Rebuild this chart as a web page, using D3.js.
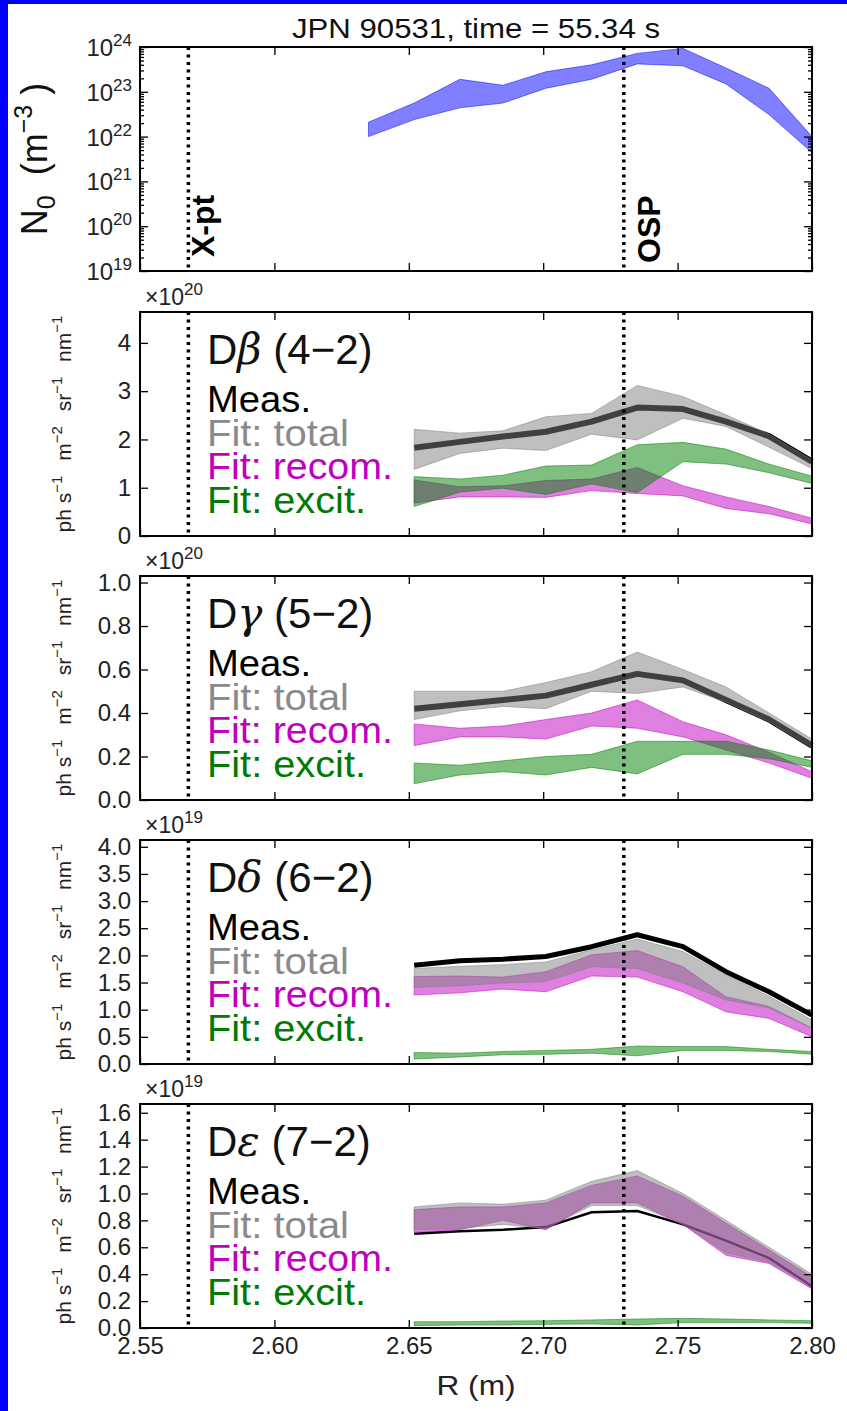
<!DOCTYPE html>
<html>
<head>
<meta charset="utf-8">
<script src="https://cdn.jsdelivr.net/npm/d3@7"></script>
<style>
body { margin: 0; background: #fff; }
svg { display: block; }
text { font-family: "Liberation Sans", Arial, sans-serif; }
</style>
</head>
<body>
<script>
// radial positions (m)
var R0 = [2.635, 2.652, 2.669, 2.685, 2.701, 2.718, 2.735, 2.752, 2.768, 2.784, 2.800];
var R = [2.652, 2.669, 2.685, 2.701, 2.718, 2.735, 2.752, 2.768, 2.784, 2.800];

// neutral density N0 (m^-3)
var n0Hi = [2.1e22, 5.6e22, 1.9e23, 1.4e23, 2.8e23, 4.0e23, 7.2e23, 9.3e23, 3.4e23, 1.2e23, 1.0e22];
var n0Lo = [1.0e22, 2.4e22, 4.4e22, 5.6e22, 1.2e23, 1.9e23, 4.2e23, 3.8e23, 1.5e23, 3.1e22, 4.4e21];

// D-beta (x1e20)
var betaMeas  = [1.83, 1.95, 2.06, 2.16, 2.37, 2.66, 2.63, 2.37, 2.07, 1.54];
var betaTotHi = [2.21, 2.13, 2.18, 2.47, 2.54, 3.12, 2.89, 2.51, 2.11, 1.58];
var betaTotLo = [1.38, 1.71, 1.82, 1.77, 2.11, 1.99, 2.44, 2.27, 1.84, 1.40];
var betaRecHi = [1.16, 1.02, 1.04, 1.15, 1.18, 1.42, 1.04, 0.81, 0.61, 0.37];
var betaRecLo = [0.68, 0.81, 0.81, 0.80, 0.94, 0.88, 0.83, 0.57, 0.46, 0.25];
var betaExcHi = [1.23, 1.18, 1.26, 1.45, 1.47, 1.89, 1.94, 1.80, 1.49, 1.24];
var betaExcLo = [0.61, 0.91, 0.99, 0.86, 1.08, 0.90, 1.54, 1.49, 1.31, 1.09];

// D-gamma (x1e20)
var gammaMeas  = [0.42, 0.44, 0.46, 0.48, 0.53, 0.58, 0.55, 0.46, 0.37, 0.25];
var gammaTotHi = [0.50, 0.50, 0.50, 0.54, 0.59, 0.68, 0.60, 0.52, 0.40, 0.28];
var gammaTotLo = [0.37, 0.41, 0.43, 0.42, 0.50, 0.49, 0.52, 0.45, 0.36, 0.24];
var gammaRecHi = [0.35, 0.33, 0.34, 0.37, 0.40, 0.46, 0.36, 0.30, 0.22, 0.13];
var gammaRecLo = [0.25, 0.29, 0.29, 0.28, 0.34, 0.33, 0.29, 0.23, 0.17, 0.10];
var gammaExcHi = [0.17, 0.16, 0.18, 0.20, 0.21, 0.27, 0.27, 0.27, 0.23, 0.18];
var gammaExcLo = [0.075, 0.115, 0.13, 0.115, 0.15, 0.12, 0.21, 0.21, 0.19, 0.15];

// D-delta (x1e19)
var deltaMeas  = [1.82, 1.90, 1.93, 1.98, 2.16, 2.38, 2.16, 1.70, 1.33, 0.90];
var deltaTotHi = [1.76, 1.80, 1.83, 1.88, 2.10, 2.30, 2.07, 1.64, 1.25, 0.81];
var deltaTotLo = [1.41, 1.44, 1.49, 1.52, 1.79, 1.76, 1.49, 1.18, 1.03, 0.66];
var deltaRecHi = [1.61, 1.62, 1.60, 1.70, 2.01, 2.09, 1.79, 1.24, 1.06, 0.66];
var deltaRecLo = [1.27, 1.31, 1.38, 1.33, 1.62, 1.60, 1.33, 0.96, 0.84, 0.50];
var deltaExcHi = [0.21, 0.20, 0.23, 0.25, 0.27, 0.33, 0.32, 0.32, 0.27, 0.23];
var deltaExcLo = [0.09, 0.13, 0.17, 0.18, 0.20, 0.15, 0.25, 0.25, 0.23, 0.18];

// D-epsilon (x1e19)
var epsMeas  = [0.70, 0.72, 0.73, 0.75, 0.86, 0.87, 0.77, 0.65, 0.52, 0.31];
var epsTotHi = [0.90, 0.93, 0.92, 0.95, 1.09, 1.17, 1.00, 0.80, 0.60, 0.40];
var epsTotLo = [0.73, 0.74, 0.77, 0.74, 0.91, 0.91, 0.77, 0.56, 0.49, 0.31];
var epsRecHi = [0.88, 0.90, 0.90, 0.93, 1.06, 1.13, 0.98, 0.78, 0.58, 0.38];
var epsRecLo = [0.71, 0.73, 0.80, 0.73, 0.93, 0.93, 0.77, 0.54, 0.48, 0.29];
var epsExcHi = [0.047, 0.047, 0.052, 0.054, 0.060, 0.067, 0.072, 0.067, 0.060, 0.054];
var epsExcLo = [0.017, 0.022, 0.022, 0.027, 0.030, 0.022, 0.040, 0.040, 0.040, 0.035];

// ticks
var xTicks = [2.55, 2.60, 2.65, 2.70, 2.75, 2.80];
var logTicks = [1e19, 1e20, 1e21, 1e22, 1e23, 1e24];
var betaTicks = [0, 1, 2, 3, 4];
var gammaTicks = [0, 0.2, 0.4, 0.6, 0.8, 1.0];
var deltaTicks = [0, 0.5, 1.0, 1.5, 2.0, 2.5, 3.0, 3.5, 4.0];
var epsTicks = [0, 0.2, 0.4, 0.6, 0.8, 1.0, 1.2, 1.4, 1.6];

var xptR = 2.568, ospR = 2.730;
var legendLabels = ["Meas.", "Fit: total", "Fit: recom.", "Fit: excit."];
var legendColors = ["#000", "#8a8a8a", "#bf00bf", "#007a00"];
var legendWidths = [104, 142, 186, 159];

var width = 847, height = 1411;
var left = 140, right = 812, ph = 224;
var tops = [47, 312, 576, 840, 1104];

var svg = d3.select("body").append("svg")
    .attr("width", width)
    .attr("height", height);

svg.append("rect").attr("x", 0).attr("y", 0).attr("width", width).attr("height", 4).attr("fill", "#0000ff");
svg.append("rect").attr("x", 0).attr("y", 0).attr("width", 8).attr("height", height).attr("fill", "#0000ff");

var x = d3.scaleLinear().domain([2.55, 2.80]).range([left, right]);

// writes text pieces with sup / sub offsets; p = [text, kind, italic, dx]
function rich(t, parts, size, smallRatio) {
  var small = Math.round(size * (smallRatio || 0.7)), shift = 0;
  parts.forEach(function(p) {
    var target = p[1] === "sup" ? -0.42 * size : p[1] === "sub" ? 0.22 * size : 0;
    var ts = t.append("tspan").attr("dy", target - shift).text(p[0]);
    if (p[1] === "sup" || p[1] === "sub") ts.attr("font-size", small);
    if (p[2]) ts.attr("font-style", "italic").attr("font-family", "DejaVu Serif");
    if (p[3]) ts.attr("dx", p[3]);
    shift = target;
  });
}

function frame(g, y, yTicks, fmt, showX) {
  g.append("g").attr("transform", "translate(0," + y.range()[0] + ")")
    .call(d3.axisBottom(x).tickValues(xTicks).tickSize(-8).tickPadding(9)
      .tickFormat(showX ? d3.format(".2f") : ""));
  g.append("g").attr("transform", "translate(0," + y.range()[1] + ")")
    .call(d3.axisTop(x).tickValues(xTicks).tickSize(-8).tickFormat(""));
  g.append("g").attr("transform", "translate(" + left + ",0)")
    .call(d3.axisLeft(y).tickValues(yTicks).tickSize(-8).tickPadding(9).tickFormat(fmt));
  g.append("g").attr("transform", "translate(" + right + ",0)")
    .call(d3.axisRight(y).tickValues(yTicks).tickSize(-8).tickFormat(""));
  g.selectAll(".domain").remove();
  g.selectAll(".tick line").attr("stroke", "#000").attr("stroke-width", 1.3);
  g.selectAll(".tick text").attr("font-size", 24).attr("fill", "#222")
    .style("font-family", "'Liberation Sans', Arial, sans-serif");
}

function border(g, y) {
  g.append("rect")
    .attr("x", left).attr("y", y.range()[1])
    .attr("width", right - left).attr("height", y.range()[0] - y.range()[1])
    .attr("fill", "none").attr("stroke", "#000").attr("stroke-width", 2);
}

function vlines(g, y) {
  [xptR, ospR].forEach(function(r) {
    g.append("line")
      .attr("x1", x(r)).attr("x2", x(r))
      .attr("y1", y.range()[1]).attr("y2", y.range()[0])
      .attr("stroke", "#000").attr("stroke-width", 3.5)
      .attr("stroke-dasharray", "3,4.5");
  });
}

function band(g, xs, lo, hi, y, color) {
  var area = d3.area()
    .x(function(d, i) { return x(xs[i]); })
    .y0(function(d, i) { return y(lo[i]); })
    .y1(function(d, i) { return y(hi[i]); });
  g.append("path").datum(lo)
    .attr("d", area)
    .attr("fill", color).attr("fill-opacity", 0.5)
    .attr("stroke", color).attr("stroke-opacity", 0.5).attr("stroke-width", 1);
}

// ---- panel 1: N0 ----
var g1 = svg.append("g");
var y1 = d3.scaleLog().domain([1e19, 1e24]).range([tops[0] + ph, tops[0]]);
band(g1, R0, n0Lo, n0Hi, y1, "#0000ff");
vlines(g1, y1);
frame(g1, y1, logTicks, function() { return ""; }, false);
var minors = [];
for (var e = 19; e < 24; e++) for (var m = 2; m < 10; m++) minors.push(m * Math.pow(10, e));
g1.append("g").attr("transform", "translate(" + left + ",0)")
  .call(d3.axisLeft(y1).tickValues(minors).tickSize(-4).tickFormat(""))
  .call(function(s) { s.select(".domain").remove(); });
g1.append("g").attr("transform", "translate(" + right + ",0)")
  .call(d3.axisRight(y1).tickValues(minors).tickSize(-4).tickFormat(""))
  .call(function(s) { s.select(".domain").remove(); });
g1.selectAll(".tick line").attr("stroke", "#000").attr("stroke-width", 1.3);
logTicks.forEach(function(v) {
  var t = g1.append("text").attr("x", left - 8).attr("y", y1(v) + 9)
    .attr("text-anchor", "end").attr("font-size", 24).attr("fill", "#222");
  rich(t, [["10"], [String(Math.round(Math.log10(v))), "sup"]], 24);
});
border(g1, y1);

svg.append("text").attr("x", 476).attr("y", 38).attr("text-anchor", "middle")
  .attr("font-size", 27).attr("fill", "#111")
  .attr("textLength", 368).attr("lengthAdjust", "spacingAndGlyphs")
  .text("JPN 90531, time = 55.34 s");

var n0lab = svg.append("text")
  .attr("transform", "translate(47," + (tops[0] + ph / 2) + ") rotate(-90)")
  .attr("text-anchor", "middle").attr("font-size", 36).attr("fill", "#111");
rich(n0lab, [["N"], ["0", "sub"], [" (m", "", false, 10], ["\u22123", "sup"], [" )"]], 36);

svg.append("text")
  .attr("transform", "translate(" + (x(xptR) + 26) + "," + (tops[0] + ph - 14) + ") rotate(-90)")
  .attr("font-size", 32).attr("font-weight", "bold").text("X-pt");
svg.append("text")
  .attr("transform", "translate(" + (x(ospR) + 36) + "," + (tops[0] + ph - 8) + ") rotate(-90)")
  .attr("font-size", 32).attr("font-weight", "bold").text("OSP");

// ---- emission panels ----
var lines = [
  { name: "\u03b2", trans: " (4\u22122)", exp: "20", ymax: 4.64, ticks: betaTicks, fmt: d3.format("d"), lw: 6,
    meas: betaMeas, totLo: betaTotLo, totHi: betaTotHi, recLo: betaRecLo, recHi: betaRecHi, excLo: betaExcLo, excHi: betaExcHi },
  { name: "\u03b3", trans: " (5\u22122)", exp: "20", ymax: 1.03, ticks: gammaTicks, fmt: d3.format(".1f"), lw: 6,
    meas: gammaMeas, totLo: gammaTotLo, totHi: gammaTotHi, recLo: gammaRecLo, recHi: gammaRecHi, excLo: gammaExcLo, excHi: gammaExcHi },
  { name: "\u03b4", trans: " (6\u22122)", exp: "19", ymax: 4.125, ticks: deltaTicks, fmt: d3.format(".1f"), lw: 5,
    meas: deltaMeas, totLo: deltaTotLo, totHi: deltaTotHi, recLo: deltaRecLo, recHi: deltaRecHi, excLo: deltaExcLo, excHi: deltaExcHi },
  { name: "\u03b5", trans: " (7\u22122)", exp: "19", ymax: 1.665, ticks: epsTicks, fmt: d3.format(".1f"), lw: 2.5,
    meas: epsMeas, totLo: epsTotLo, totHi: epsTotHi, recLo: epsRecLo, recHi: epsRecHi, excLo: epsExcLo, excHi: epsExcHi }
];

lines.forEach(function(p, k) {
  var top = tops[k + 1];
  var g = svg.append("g");
  var y = d3.scaleLinear().domain([0, p.ymax]).range([top + ph, top]);

  g.append("path").datum(p.meas)
    .attr("d", d3.line().x(function(d, i) { return x(R[i]); }).y(function(d) { return y(d); }))
    .attr("fill", "none").attr("stroke", "#000").attr("stroke-width", p.lw)
    .attr("stroke-linejoin", "round");
  band(g, R, p.recLo, p.recHi, y, "#bf00bf");
  band(g, R, p.totLo, p.totHi, y, "#808080");
  band(g, R, p.excLo, p.excHi, y, "#008000");
  vlines(g, y);
  frame(g, y, p.ticks, p.fmt, k === lines.length - 1);
  border(g, y);

  var ex = g.append("text").attr("x", 145).attr("y", top - 7).attr("font-size", 23).attr("fill", "#222");
  rich(ex, [["\u00d710"], [p.exp, "sup"]], 23, 0.75);

  var ttl = g.append("text").attr("x", 207).attr("y", top + 52).attr("font-size", 42).attr("fill", "#111");
  rich(ttl, [["D"], [p.name, "", true], [p.trans]], 42);

  legendLabels.forEach(function(l, j) {
    g.append("text").attr("x", 207).attr("y", top + 100 + j * 33.5)
      .attr("font-size", 36).attr("fill", legendColors[j])
      .attr("textLength", legendWidths[j]).attr("lengthAdjust", "spacingAndGlyphs")
      .text(l);
  });

  var yl = g.append("text")
    .attr("transform", "translate(71," + (top + ph / 2) + ") rotate(-90)")
    .attr("text-anchor", "middle").attr("font-size", 21).attr("fill", "#222");
  rich(yl, [["ph s"], ["\u22121", "sup"], [" m", "", false, 9], ["\u22122", "sup"],
            [" sr", "", false, 9], ["\u22121", "sup"], [" nm", "", false, 9], ["\u22121", "sup"]], 21);
});

svg.append("text").attr("x", 476).attr("y", 1395).attr("text-anchor", "middle")
  .attr("font-size", 27).attr("fill", "#222")
  .attr("textLength", 79).attr("lengthAdjust", "spacingAndGlyphs")
  .text("R (m)");
</script>
</body>
</html>
